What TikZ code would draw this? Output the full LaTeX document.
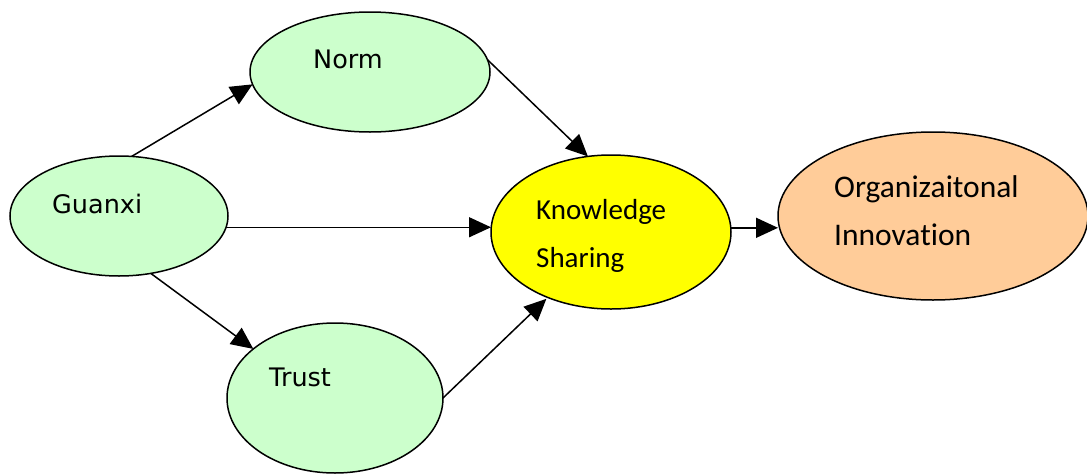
\documentclass[tikz,border=0pt]{standalone}
\usepackage{fontspec}
\usetikzlibrary{shapes.geometric,arrows.meta}
\newfontfamily\dvfont{DejaVu Sans}
\newfontfamily\clfont[Ligatures=NoCommon]{Carlito}
\definecolor{palegreen}{HTML}{CCFFCC}
\definecolor{ksyellow}{HTML}{FFFF00}
\definecolor{orgorange}{HTML}{FFCC99}
\tikzset{
  oval/.style={ellipse, draw=black, line width=1.5pt, inner sep=0pt, outer sep=0pt},
  arr/.style={line width=1.5pt, -{Triangle[length=22pt,width=20pt]}},
  lblA/.style={anchor=base west, inner sep=0pt, font=\dvfont\fontsize{25.5}{30}\selectfont},
  lblB/.style={anchor=base west, inner sep=0pt, font=\clfont\fontsize{29}{34}\selectfont},
  lblC/.style={anchor=base west, inner sep=0pt, font=\clfont\fontsize{31.5}{36}\selectfont}
}
\begin{document}
\begin{tikzpicture}[x=1pt,y=-1pt]
\useasboundingbox[fill=white] (0,0) rectangle (1087,474);
% ellipses
\node[oval, fill=palegreen, minimum width=240pt, minimum height=120pt] (n) at (370,72) {};
\node[oval, fill=palegreen, minimum width=218pt, minimum height=120pt] (g) at (119,216) {};
\node[oval, fill=palegreen, minimum width=216pt, minimum height=150pt] (t) at (335,398) {};
\node[oval, fill=ksyellow, minimum width=240pt, minimum height=154pt] (k) at (611,232) {};
\node[oval, fill=orgorange, minimum width=310pt, minimum height=168pt] (o) at (933,216) {};
% labels
\node[lblA] (tn) at (313,68) {Norm};
\node[lblA] (tg) at (52,213) {Guanxi};
\node[lblA] (tt) at (269,386) {Trust};
\node[lblB] (tk1) at (536,219) {Knowledge};
\node[lblB] (tk2) at (536,267) {Sharing};
\node[lblC] (to1) at (834,197) {Organizaitonal};
\node[lblC] (to2) at (834,245) {Innovation};
% connectors
\draw[arr] (g.78) -- (n.186);
\draw[arr] (g.-6) -- (g.-6 -| k.west);
\draw[arr] (g.-61) -- (t.149);
\draw[arr] (n.6) -- (k.107);
\draw[arr, shorten >=2pt] (t.0) -- (k.226);
\draw[arr] (k.2) -- (k.2 -| o.west);
\end{tikzpicture}
\end{document}
